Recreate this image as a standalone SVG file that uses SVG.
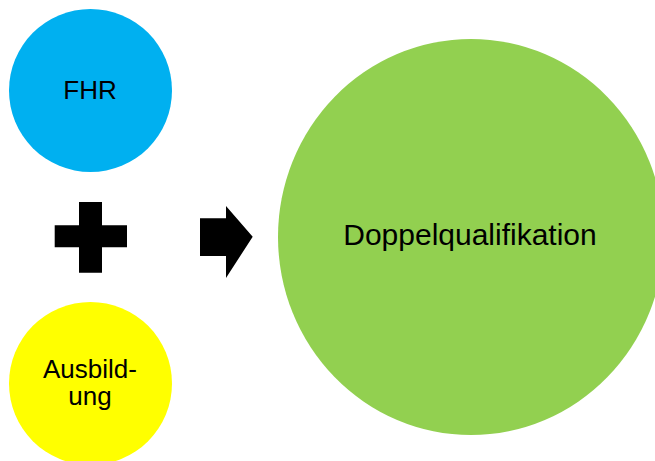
<svg xmlns="http://www.w3.org/2000/svg" width="655" height="461" viewBox="0 0 655 461">
<style>
.t{font-family:"Liberation Sans",Arial,sans-serif;fill:#000;text-anchor:middle}
.s{font-size:26px}
.b{font-size:30px}
.sym{fill:#000}
</style>
<rect width="655" height="461" fill="#fff"/>
<g id="fhr">
<circle cx="90.5" cy="90.5" r="81.5" fill="#00B0F0"/>
<text class="t s" x="90" y="99.3">FHR</text>
</g>
<g id="ausbildung">
<circle cx="90.5" cy="383.5" r="81.5" fill="#FFFF00"/>
<text class="t s" x="90" y="377.5">Ausbild-</text>
<text class="t s" x="90" y="405">ung</text>
</g>
<g id="doppelqualifikation">
<ellipse cx="471" cy="237" rx="193" ry="198" fill="#92D050"/>
<text class="t b" x="470" y="245">Doppelqualifikation</text>
</g>
<g id="connectors">
<path class="sym" d="M79,202H102V225.3H127V247.3H102V272.7H79V247.3H54.7V225.3H79Z"/>
<path class="sym" d="M200,218.3H226V206L252.7,236.7L226,278V256H200Z"/>
</g>
</svg>
